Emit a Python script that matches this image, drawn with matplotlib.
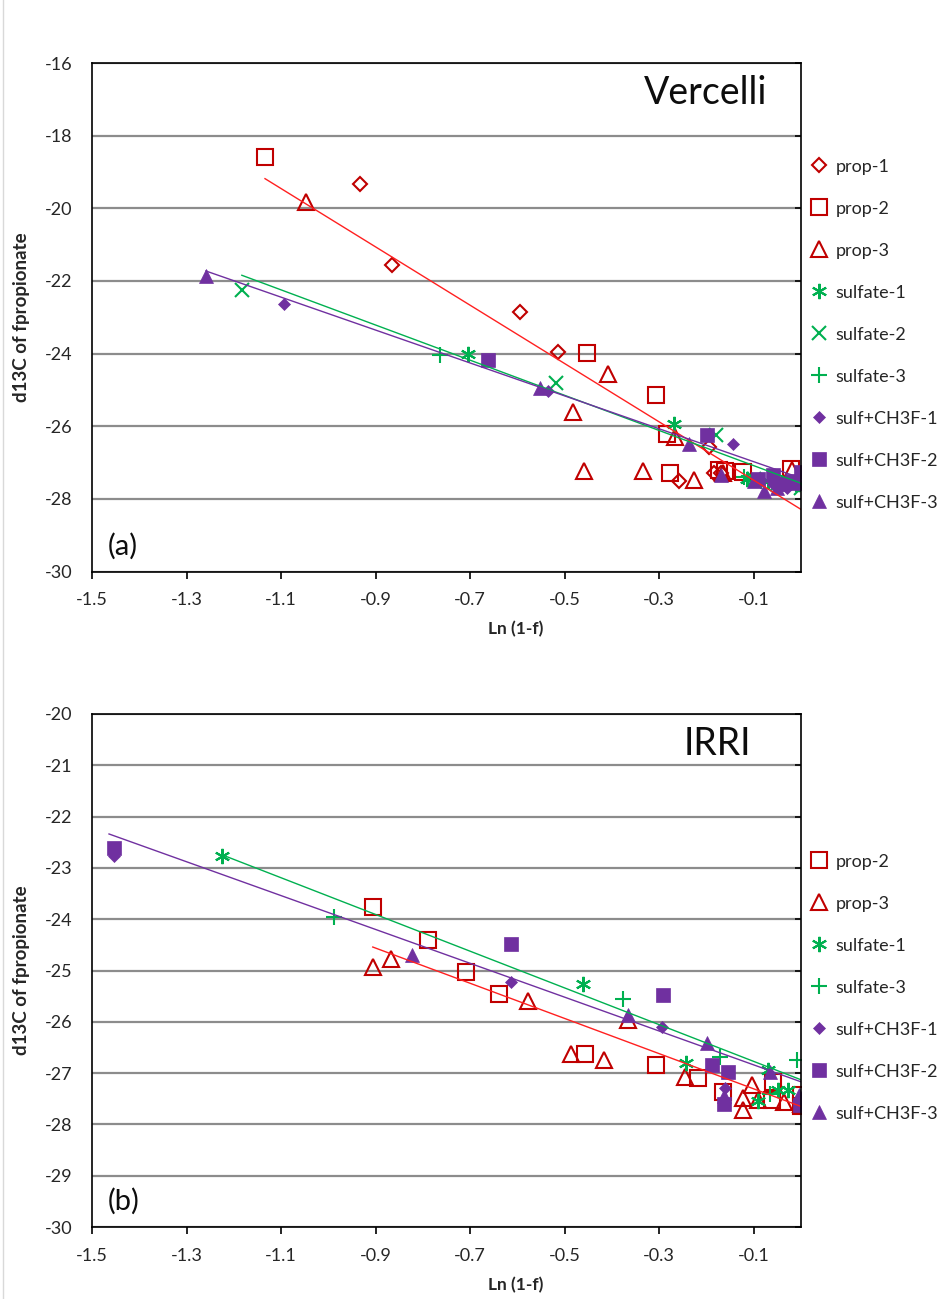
import numpy as np
import matplotlib.pyplot as plt
from matplotlib.lines import Line2D

plt.rcParams['font.family'] = ['Lato', 'DejaVu Sans']
plt.rcParams['axes.unicode_minus'] = False

# ---------------------------------------------------------------------------
# (a) Vercelli soil : Ln(1-f) vs d13C of propionate
# ---------------------------------------------------------------------------
a_prop1_x = [-0.933, -0.865, -0.594, -0.515, -0.258, -0.194, -0.184, -0.170]
a_prop1_y = [-19.33, -21.57, -22.86, -23.95, -27.50, -26.57, -27.29, -27.30]
a_prop2_x = [-1.134, -0.453, -0.307, -0.284, -0.277, -0.173, -0.160, -0.122, -0.021]
a_prop2_y = [-18.60, -23.99, -25.14, -26.22, -27.29, -27.20, -27.22, -27.26, -27.17]
a_prop3_x = [-1.047, -0.482, -0.409, -0.459, -0.335, -0.267, -0.227, -0.165, -0.020]
a_prop3_y = [-19.82, -25.60, -24.57, -27.23, -27.23, -26.30, -27.47, -27.30, -27.20]
a_sulf1_x = [-0.704, -0.268, -0.115, -0.070, -0.030, -0.005]
a_sulf1_y = [-24.00, -25.93, -27.45, -27.50, -27.55, -27.60]
a_sulf2_x = [-1.183, -0.519, -0.180, -0.100, -0.050, 0.000]
a_sulf2_y = [-22.24, -24.82, -26.25, -27.45, -27.60, -27.70]
a_sulf3_x = [-0.763, -0.120, -0.085, -0.040, -0.010]
a_sulf3_y = [-24.03, -27.40, -27.50, -27.55, -27.60]
a_ch3f1_x = [-1.094, -0.536, -0.143, -0.090, -0.060, -0.030, -0.010]
a_ch3f1_y = [-22.63, -25.03, -26.50, -27.50, -27.60, -27.70, -27.50]
a_ch3f2_x = [-0.662, -0.199, -0.090, -0.060, -0.040, -0.020, 0.000]
a_ch3f2_y = [-24.17, -26.25, -27.45, -27.35, -27.60, -27.50, -27.26]
a_ch3f3_x = [-1.259, -0.553, -0.237, -0.169, -0.100, -0.078, -0.050, -0.010]
a_ch3f3_y = [-21.87, -24.95, -26.48, -27.35, -27.50, -27.79, -27.70, -27.55]

# trendlines (prop, sulfate, sulf+CH3F): slope, intercept, lowest Ln(1-f)
a_fit_slope = [-8.03, -4.84, -4.53]
a_fit_icept = [-28.29, -27.57, -27.43]
a_fit_xmin = [-1.134, -1.183, -1.259]

# ---------------------------------------------------------------------------
# (b) IRRI soil
# ---------------------------------------------------------------------------
b_prop2_x = [-0.906, -0.789, -0.709, -0.639, -0.456, -0.307, -0.217, -0.164, -0.062, -0.060, 0.000, 0.000]
b_prop2_y = [-23.76, -24.40, -25.02, -25.46, -26.62, -26.84, -27.10, -27.36, -27.52, -27.17, -27.43, -27.65]
b_prop3_x = [-0.906, -0.867, -0.578, -0.487, -0.417, -0.367, -0.245, -0.122, -0.104, -0.090, -0.123, -0.035, 0.000]
b_prop3_y = [-24.93, -24.77, -25.59, -26.63, -26.75, -25.97, -27.08, -27.49, -27.23, -27.52, -27.72, -27.56, -27.60]
b_sulf1_x = [-1.225, -0.461, -0.243, -0.069, -0.090, -0.048, -0.027]
b_sulf1_y = [-22.77, -25.26, -26.81, -26.94, -27.55, -27.33, -27.33]
b_sulf3_x = [-0.987, -0.376, -0.171, -0.009, -0.066]
b_sulf3_y = [-23.95, -25.55, -26.68, -26.75, -27.40]
b_ch3f1_x = [-1.454, -0.614, -0.294, -0.160, -0.005]
b_ch3f1_y = [-22.77, -25.23, -26.10, -27.30, -27.55]
b_ch3f2_x = [-1.454, -0.614, -0.293, -0.189, -0.155, -0.162, -0.003]
b_ch3f2_y = [-22.62, -24.49, -25.48, -26.84, -26.97, -27.60, -27.62]
b_ch3f3_x = [-0.824, -0.365, -0.199, -0.162, -0.066, -0.005]
b_ch3f3_y = [-24.70, -25.87, -26.42, -27.45, -26.97, -27.43]

b_fit_slope = [-3.43, -3.58, -3.30]
b_fit_icept = [-27.65, -27.13, -27.17]
b_fit_xmin = [-0.906, -1.225, -1.464]

RED, GREEN, PURPLE = '#C00000', '#00B050', '#7030A0'
FIT_COLORS = ['#FF2020', '#00B050', '#7030A0']
TXT = '#262626'

# marker styles per series label
STYLE = {
    'prop-1': dict(marker='D', ms=7.6, mfc='none', mec=RED, mew=1.5),
    'prop-2': dict(marker='s', ms=12, mfc='none', mec=RED, mew=1.5),
    'prop-3': dict(marker='^', ms=12, mfc='none', mec=RED, mew=1.5),
    'sulfate-1': dict(marker=(6, 2, 0), ms=11, mec=GREEN, mew=1.5),
    'sulfate-2': dict(marker='x', ms=10, mec=GREEN, mew=1.5),
    'sulfate-3': dict(marker='+', ms=12, mec=GREEN, mew=1.5),
    'sulf+CH3F-1': dict(marker='D', ms=6.5, mfc=PURPLE, mec=PURPLE, mew=0.5),
    'sulf+CH3F-2': dict(marker='s', ms=10, mfc=PURPLE, mec=PURPLE, mew=0.5),
    'sulf+CH3F-3': dict(marker='^', ms=10, mfc=PURPLE, mec=PURPLE, mew=0.5),
}


def setup_axis(ax, ymin, ymax, ystep):
    ax.set_xlim(-1.5, 0)
    ax.set_ylim(ymin, ymax)
    ax.set_xticks(np.arange(-1.5, -0.05, 0.2))
    ax.set_xticklabels(['%.1f' % v for v in np.arange(-1.5, -0.05, 0.2)])
    ax.set_yticks(np.arange(ymin, ymax + 0.01, ystep))
    ax.yaxis.grid(True, color='#8c8c8c', lw=1.6)
    ax.set_axisbelow(True)
    ax.tick_params(axis='x', direction='out', length=5, width=1.2, pad=10,
                   labelsize=13, labelcolor=TXT)
    ax.tick_params(axis='y', left=False, right=True, direction='in', length=4,
                   width=1.2, labelleft=True, labelright=False, pad=14,
                   labelsize=13, labelcolor=TXT)
    for s in ax.spines.values():
        s.set_linewidth(1.2)
    ax.set_xlabel('Ln (1-f)', fontsize=12.5, fontweight='bold', color=TXT)
    ax.xaxis.set_label_coords(0.597, -0.098)


def draw_panel(ax, series, slopes, icepts, xmins):
    for label, x, y in series:
        ax.plot(x, y, ls='none', label=label, **STYLE[label])
    for m, b, x0, c in zip(slopes, icepts, xmins, FIT_COLORS):
        xx = np.array([x0, 0.0])
        ax.plot(xx, b + m * xx, color=c, lw=1.0)


fig = plt.figure(figsize=(9.48, 12.99), dpi=100)
ax_a = fig.add_axes([92 / 948, 1 - 571.5 / 1299, 709 / 948, 508.5 / 1299])
ax_b = fig.add_axes([92 / 948, 1 - 1227 / 1299, 709 / 948, 513 / 1299])

setup_axis(ax_a, -30, -16, 2)
setup_axis(ax_b, -30, -20, 1)

draw_panel(ax_a, [
    ('prop-1', a_prop1_x, a_prop1_y),
    ('prop-2', a_prop2_x, a_prop2_y),
    ('prop-3', a_prop3_x, a_prop3_y),
    ('sulfate-1', a_sulf1_x, a_sulf1_y),
    ('sulfate-2', a_sulf2_x, a_sulf2_y),
    ('sulfate-3', a_sulf3_x, a_sulf3_y),
    ('sulf+CH3F-1', a_ch3f1_x, a_ch3f1_y),
    ('sulf+CH3F-2', a_ch3f2_x, a_ch3f2_y),
    ('sulf+CH3F-3', a_ch3f3_x, a_ch3f3_y),
], a_fit_slope, a_fit_icept, a_fit_xmin)

draw_panel(ax_b, [
    ('prop-2', b_prop2_x, b_prop2_y),
    ('prop-3', b_prop3_x, b_prop3_y),
    ('sulfate-1', b_sulf1_x, b_sulf1_y),
    ('sulfate-3', b_sulf3_x, b_sulf3_y),
    ('sulf+CH3F-1', b_ch3f1_x, b_ch3f1_y),
    ('sulf+CH3F-2', b_ch3f2_x, b_ch3f2_y),
    ('sulf+CH3F-3', b_ch3f3_x, b_ch3f3_y),
], b_fit_slope, b_fit_icept, b_fit_xmin)

panels = [(ax_a, 'Vercelli', 0.952, '(a)', 0.812, 317),
          (ax_b, 'IRRI', 0.929, '(b)', 0.728, 970)]
for ax, name, xname, tag, ytop, ylab in panels:
    ax.text(xname, 0.941, name, transform=ax.transAxes,
            ha='right', va='center', fontsize=27, color='#0d0d0d')
    ax.text(0.022, 0.05, tag, transform=ax.transAxes, ha='left', va='center',
            fontsize=21, color='#0d0d0d')
    ax.legend(loc='upper left', bbox_to_anchor=(1.0127, ytop), frameon=False,
              fontsize=13, labelspacing=1.44, handlelength=1.0,
              handletextpad=0.4, borderpad=0, borderaxespad=0,
              labelcolor=TXT)
    fig.text(22 / 948, 1 - ylab / 1299, 'd13C of fpropionate', rotation=90,
             ha='center', va='center', fontsize=13.5, fontweight='bold', color=TXT)

# thin chart-area frame on the left edge
fig.add_artist(Line2D([3 / 948, 3 / 948], [0, 1], transform=fig.transFigure,
                      color='#d9d9d9', lw=1))

fig.savefig('out.png', dpi=100)
